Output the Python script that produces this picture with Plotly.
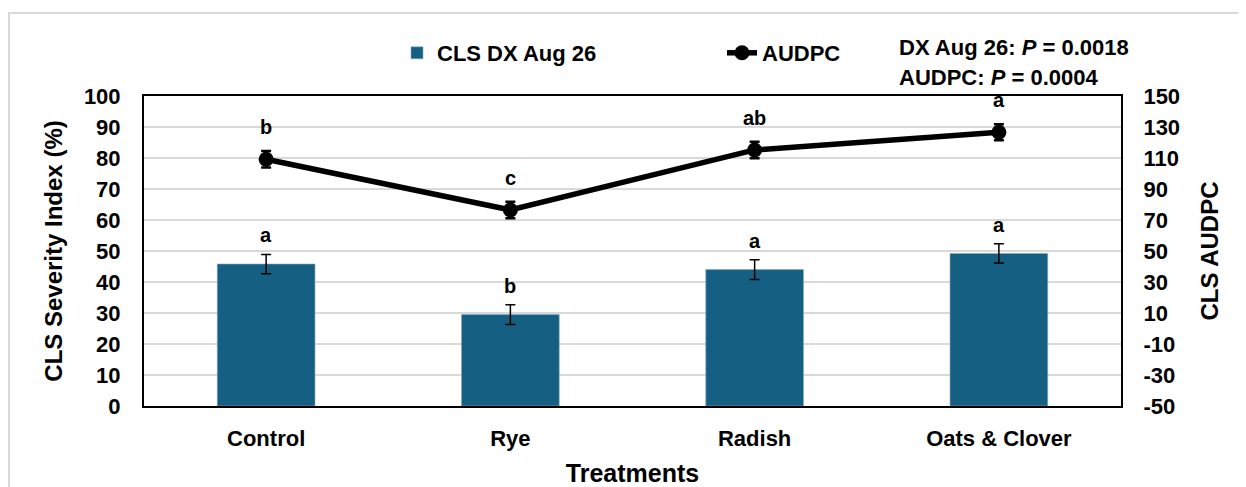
import plotly.graph_objects as go

categories = ["Control", "Rye", "Radish", "Oats & Clover"]
dx_values = [45.8, 29.5, 44.0, 49.2]
dx_se = [3.1, 3.2, 3.2, 3.1]
dx_letters = ["a", "b", "a", "a"]
audpc_values = [109.2, 76.5, 115.2, 126.6]
audpc_se = [5.3, 5.3, 5.3, 5.2]
audpc_letters = ["b", "c", "ab", "a"]
left_ticks = list(range(0, 101, 10))
right_ticks = list(range(-50, 151, 20))
right_ticktext = [str(v) for v in right_ticks]

# page offset (browser body margin) compensation
OFF = 8
W, H = 1238, 479
ML, MR, MT, MB = 136, 125, 88, 81
PW, PH = W - ML - MR, H - MT - MB


def px_x(page):
    return (page - OFF - ML) / PW


def px_y(page):
    return (H - MB - (page - OFF)) / PH


BAR_COLOR = "#156082"
FONT = "Liberation Sans, Arial, sans-serif"

fig = go.Figure()
fig.add_trace(go.Bar(
    x=categories, y=dx_values, name="<b>CLS DX Aug 26</b>",
    marker=dict(color=BAR_COLOR, line=dict(color="#7FA9C0", width=0.6)),
    width=0.4,
    error_y=dict(type="data", array=dx_se, color="black", thickness=1.5, width=5),
    yaxis="y",
))
fig.add_trace(go.Scatter(
    x=categories, y=audpc_values, name="<b>AUDPC</b>",
    mode="lines+markers",
    line=dict(color="black", width=5.5),
    marker=dict(color="black", size=15, symbol="circle"),
    error_y=dict(type="data", array=audpc_se, color="black", thickness=2.5, width=5),
    yaxis="y2",
))

annotations = []
for c, v, s, t in zip(categories, dx_values, dx_se, dx_letters):
    annotations.append(dict(x=c, y=v + s, xref="x", yref="y", text=f"<b>{t}</b>",
                            showarrow=False, yshift=19, yanchor="middle",
                            font=dict(family=FONT, size=20, color="black")))
for c, v, t in zip(categories, audpc_values, audpc_letters):
    annotations.append(dict(x=c, y=v, xref="x", yref="y2", text=f"<b>{t}</b>",
                            showarrow=False, yshift=32, yanchor="middle",
                            font=dict(family=FONT, size=20, color="black")))
annotations.append(dict(x=px_x(897), y=px_y(47.5), xref="paper", yref="paper",
                        text="<b>DX Aug 26: <i>P</i> = 0.0018</b>", showarrow=False,
                        xanchor="left", yanchor="middle",
                        font=dict(family=FONT, size=22, color="black")))
annotations.append(dict(x=px_x(897), y=px_y(78), xref="paper", yref="paper",
                        text="<b>AUDPC: <i>P</i> = 0.0004</b>", showarrow=False,
                        xanchor="left", yanchor="middle",
                        font=dict(family=FONT, size=22, color="black")))

tickfont = dict(family=FONT, size=22, weight="bold", color="black")

fig.update_layout(
    width=W, height=H,
    margin=dict(l=ML, r=MR, t=MT, b=MB, autoexpand=False),
    paper_bgcolor="white", plot_bgcolor="white",
    font=dict(family=FONT, color="black"),
    showlegend=True,
    legend=dict(orientation="h", x=px_x(397), y=px_y(53), xanchor="left", yanchor="middle",
                font=dict(family=FONT, size=22, color="black"),
                entrywidth=280, bgcolor="rgba(0,0,0,0)", traceorder="normal"),
    xaxis=dict(
        range=[-0.5, 3.5], showline=True, mirror=True, linecolor="black", linewidth=2,
        ticks="", tickfont=tickfont, ticklabelstandoff=12,
        title=dict(text="<b>Treatments</b>", font=dict(family=FONT, size=25, color="black"),
                   standoff=16),
        automargin=False,
    ),
    yaxis=dict(
        range=[0, 100], tickvals=left_ticks, showline=True, mirror=True, linecolor="black",
        linewidth=2, showgrid=True, gridcolor="#D9D9D9", gridwidth=1.5, zeroline=False,
        ticks="", tickfont=tickfont, ticklabelstandoff=17,
        title=dict(text="<b>CLS Severity Index (%)</b>",
                   font=dict(family=FONT, size=24, color="black"), standoff=14),
        automargin=False,
    ),
    yaxis2=dict(
        range=[-50, 150], tickvals=right_ticks, ticktext=right_ticktext,
        overlaying="y", side="right",
        showline=True, linecolor="black", linewidth=2, showgrid=False, zeroline=False,
        ticks="", tickfont=tickfont, ticklabelstandoff=16,
        title=dict(text="<b>CLS AUDPC</b>", font=dict(family=FONT, size=24, color="black"),
                   standoff=22),
        automargin=False,
    ),
    annotations=annotations,
    shapes=[dict(type="rect", xref="paper", yref="paper",
                 x0=px_x(9), x1=px_x(1270), y0=px_y(520), y1=px_y(13),
                 line=dict(color="#D9D9D9", width=2), fillcolor="rgba(0,0,0,0)",
                 layer="below")],
)

fig.write_html("out.html")
